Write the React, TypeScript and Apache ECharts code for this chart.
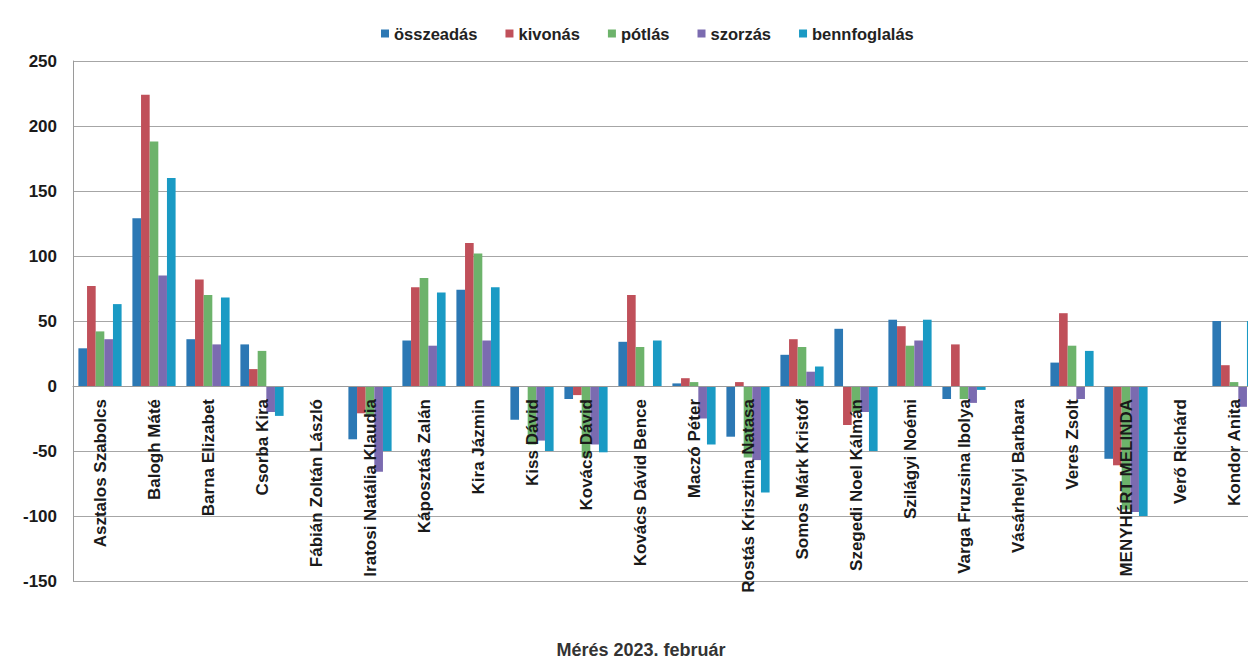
import React, { useEffect, useRef } from "react";
import * as echarts from "echarts";

const categories = [
  "Asztalos Szabolcs",
  "Balogh Máté",
  "Barna Elizabet",
  "Csorba Kira",
  "Fábián Zoltán László",
  "Iratosi Natália Klaudia",
  "Káposztás Zalán",
  "Kira Jázmin",
  "Kiss Dávid",
  "Kovács Dávid",
  "Kovács Dávid Bence",
  "Maczó Péter",
  "Rostás Krisztina Natasa",
  "Somos Márk Kristóf",
  "Szegedi Noel Kálmán",
  "Szilágyi Noémi",
  "Varga Fruzsina Ibolya",
  "Vásárhelyi Barbara",
  "Veres Zsolt",
  "MENYHÉRT MELINDA",
  "Verő Richárd",
  "Kondor Anita",
];

const seriesNames = ["összeadás", "kivonás", "pótlás", "szorzás", "bennfoglalás"];

const osszeadas = [29, 129, 36, 32, 0, -41, 35, 74, -26, -10, 34, 2, -39, 24, 44, 51, -10, 0, 18, -56, 0, 50];
const kivonas = [77, 224, 82, 13, 0, -21, 76, 110, 0, -7, 70, 6, 3, 36, -30, 46, 32, 0, 56, -61, 0, 16];
const potlas = [42, 188, 70, 27, 0, -22, 83, 102, -45, -55, 30, 3, -55, 30, -20, 31, -10, 0, 31, -95, 0, 3];
const szorzas = [36, 85, 32, -20, 0, -66, 31, 35, -42, -45, 0, -25, -57, 11, -20, 35, -13, 0, -10, -97, 0, -16];
const bennfoglalas = [63, 160, 68, -23, 0, -50, 72, 76, -50, -51, 35, -45, -82, 15, -50, 51, -3, 0, 27, -100, 0, 50];

const xAxisTitle = "Mérés 2023. február";
const yMin = -150;
const yMax = 250;
const yStep = 50;

const colors = ["#2C78B4", "#C0505A", "#6DB36B", "#7B6BB0", "#1A9AC4"];

const gridTop = 61;
const gridHeight = 520;

export default function App() {
  const ref = useRef<HTMLDivElement>(null);

  useEffect(() => {
    if (!ref.current) return;
    const chart = echarts.init(ref.current, undefined, { renderer: "svg" });
    const values = [osszeadas, kivonas, potlas, szorzas, bennfoglalas];
    const sans = '"Liberation Sans", Arial, sans-serif';
    // distance from the grid bottom up to the zero value line
    const zeroOffset = -(gridHeight * (0 - yMin)) / (yMax - yMin);
    chart.setOption({
      animation: false,
      backgroundColor: "#ffffff",
      color: colors,
      legend: {
        data: seriesNames,
        left: 376,
        top: 20,
        icon: "rect",
        itemWidth: 8,
        itemHeight: 8,
        itemGap: 28,
        textStyle: {
          fontFamily: sans,
          fontWeight: "bold",
          fontSize: 16.5,
          color: "#222",
        },
      },
      grid: {
        left: 73,
        top: gridTop,
        width: 1188,
        height: gridHeight,
        containLabel: false,
        outerBoundsMode: "none",
      },
      xAxis: {
        type: "category",
        data: categories,
        position: "bottom",
        offset: zeroOffset,
        z: 10,
        axisLine: { onZero: false, lineStyle: { color: "#9a9a9a", width: 1 } },
        axisTick: { show: false },
        axisLabel: {
          rotate: 90,
          interval: 0,
          margin: 13,
          fontFamily: sans,
          fontWeight: "bold",
          fontSize: 17,
          color: "#1a1a1a",
        },
      },
      yAxis: {
        type: "value",
        min: yMin,
        max: yMax,
        interval: yStep,
        axisLine: { show: true, lineStyle: { color: "#9a9a9a", width: 1 } },
        axisTick: { show: false },
        splitLine: { lineStyle: { color: "#a6a6a6", width: 1 } },
        axisLabel: {
          margin: 16,
          fontFamily: sans,
          fontWeight: "bold",
          fontSize: 17,
          color: "#1a1a1a",
        },
      },
      series: seriesNames.map((name, i) => ({
        name,
        type: "bar",
        data: values[i],
        barGap: "0%",
        barCategoryGap: "20%",
        itemStyle: { color: colors[i] },
      })),
      graphic: [
        {
          type: "text",
          x: 641,
          y: 650,
          style: {
            text: xAxisTitle,
            textAlign: "center",
            textVerticalAlign: "middle",
            font: 'bold 18px "Liberation Sans", Arial, sans-serif',
            fill: "#333",
          },
        },
      ],
    });
    return () => chart.dispose();
  }, []);

  return (
    <div
      ref={ref}
      style={{ position: "absolute", left: 0, top: 0, width: 1248, height: 659 }}
    />
  );
}
